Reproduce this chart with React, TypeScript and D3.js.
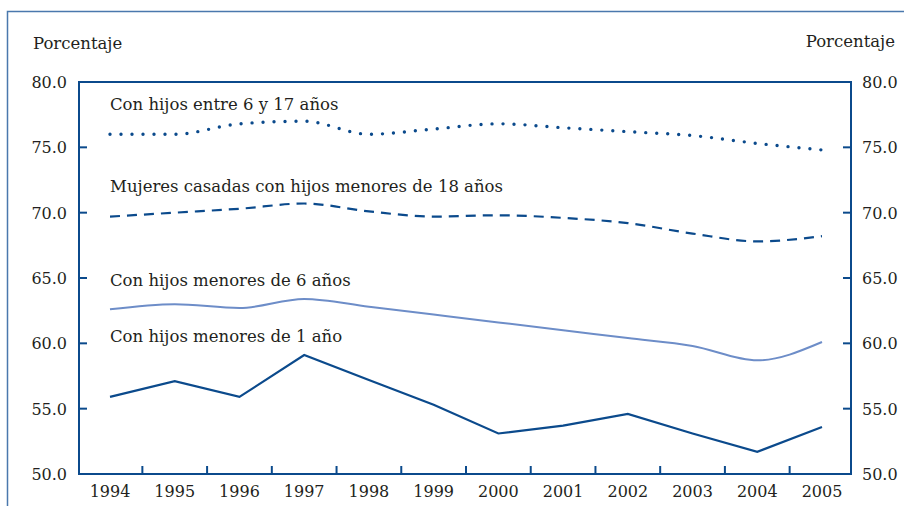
import React from "react";
import * as d3 from "d3";

const years = [1994, 1995, 1996, 1997, 1998, 1999, 2000, 2001, 2002, 2003, 2004, 2005];
const entre6y17 = [76.0, 76.0, 76.8, 77.0, 76.0, 76.4, 76.8, 76.5, 76.2, 75.9, 75.3, 74.8];
const casadas18 = [69.7, 70.0, 70.3, 70.7, 70.1, 69.7, 69.8, 69.6, 69.2, 68.4, 67.8, 68.2];
const menores6 = [62.6, 63.0, 62.7, 63.4, 62.8, 62.2, 61.6, 61.0, 60.4, 59.8, 58.7, 60.1];
const menores1 = [55.9, 57.1, 55.9, 59.1, 57.2, 55.3, 53.1, 53.7, 54.6, 53.1, 51.7, 53.6];
const yTicks = [50, 55, 60, 65, 70, 75, 80];
const axisTitle = "Porcentaje";
const seriesLabels = [
  "Con hijos entre 6 y 17 años",
  "Mujeres casadas con hijos menores de 18 años",
  "Con hijos menores de 6 años",
  "Con hijos menores de 1 año",
];

const W = 904;
const H = 506;
const plotL = 79;
const plotR = 851;
const plotT = 82;
const plotB = 474;
const DARK = "#0b4a8c";
const LIGHT = "#6d8dc8";
const FRAME = "#4a78ad";
const TEXT = "#231f20";
const FONT = "'DejaVu Serif', serif";
const FS = 16;
const FSL = 16.5;

export default function App() {
  const x = d3.scaleLinear().domain([1994, 2005]).range([110, 822]);
  const y = d3.scaleLinear().domain([50, 80]).range([plotB, plotT]);

  const mk = (vals: number[], curve: d3.CurveFactory) =>
    d3
      .line<number>()
      .x((_, i) => x(years[i]))
      .y((v) => y(v))
      .curve(curve)(vals) || "";

  const xTickPos = years.slice(0, -1).map((yr) => yr + 0.5);
  const innerTicks = yTicks.filter((t) => t !== 50 && t !== 80);

  return (
    <svg
      width={W}
      height={H}
      style={{ position: "absolute", left: 0, top: 0, background: "#fff" }}
      fontFamily={FONT}
    >
      <rect x={0} y={0} width={W} height={H} fill="#fff" />
      {/* outer frame */}
      <rect x={7.5} y={11.5} width={920} height={520} fill="none" stroke={FRAME} strokeWidth={1.5} />

      {/* axis titles */}
      <text x={33} y={49} fontSize={FSL} fill={TEXT}>{axisTitle}</text>
      <text x={895} y={47} fontSize={FSL} fill={TEXT} textAnchor="end">{axisTitle}</text>

      {/* plot frame */}
      <path
        d={`M${plotL},${plotB}V${plotT}H${plotR}V${plotB}Z`}
        fill="none"
        stroke={DARK}
        strokeWidth={2}
      />

      {/* y ticks */}
      {innerTicks.map((t) => (
        <g key={"yt" + t}>
          <line x1={plotL} x2={plotL + 8} y1={y(t)} y2={y(t)} stroke={DARK} strokeWidth={2} />
          <line x1={plotR} x2={plotR - 8} y1={y(t)} y2={y(t)} stroke={DARK} strokeWidth={2} />
        </g>
      ))}
      {yTicks.map((t) => (
        <g key={"yl" + t}>
          <text x={67} y={y(t) + 6} fontSize={FS} fill={TEXT} textAnchor="end">
            {t.toFixed(1)}
          </text>
          <text x={862} y={y(t) + 6} fontSize={FS} fill={TEXT}>
            {t.toFixed(1)}
          </text>
        </g>
      ))}

      {/* x ticks */}
      {xTickPos.map((p) => (
        <line key={"xt" + p} x1={x(p)} x2={x(p)} y1={plotB} y2={plotB - 8} stroke={DARK} strokeWidth={2} />
      ))}
      {years.map((yr) => (
        <text key={"xl" + yr} x={x(yr)} y={497} fontSize={FS} fill={TEXT} textAnchor="middle">
          {yr}
        </text>
      ))}

      {/* series */}
      <path
        d={mk(entre6y17, d3.curveMonotoneX)}
        fill="none"
        stroke={DARK}
        strokeWidth={3.4}
        strokeLinecap="round"
        strokeDasharray="0 11"
      />
      <path
        d={mk(casadas18, d3.curveMonotoneX)}
        fill="none"
        stroke={DARK}
        strokeWidth={2.2}
        strokeDasharray="10 7"
      />
      <path d={mk(menores6, d3.curveMonotoneX)} fill="none" stroke={LIGHT} strokeWidth={2} />
      <path d={mk(menores1, d3.curveLinear)} fill="none" stroke={DARK} strokeWidth={2.2} />

      {/* series labels */}
      <text x={110} y={110} fontSize={FSL} fill={TEXT}>{seriesLabels[0]}</text>
      <text x={110} y={192} fontSize={FSL} fill={TEXT}>{seriesLabels[1]}</text>
      <text x={110} y={286} fontSize={FSL} fill={TEXT}>{seriesLabels[2]}</text>
      <text x={110} y={342} fontSize={FSL} fill={TEXT}>{seriesLabels[3]}</text>
    </svg>
  );
}
